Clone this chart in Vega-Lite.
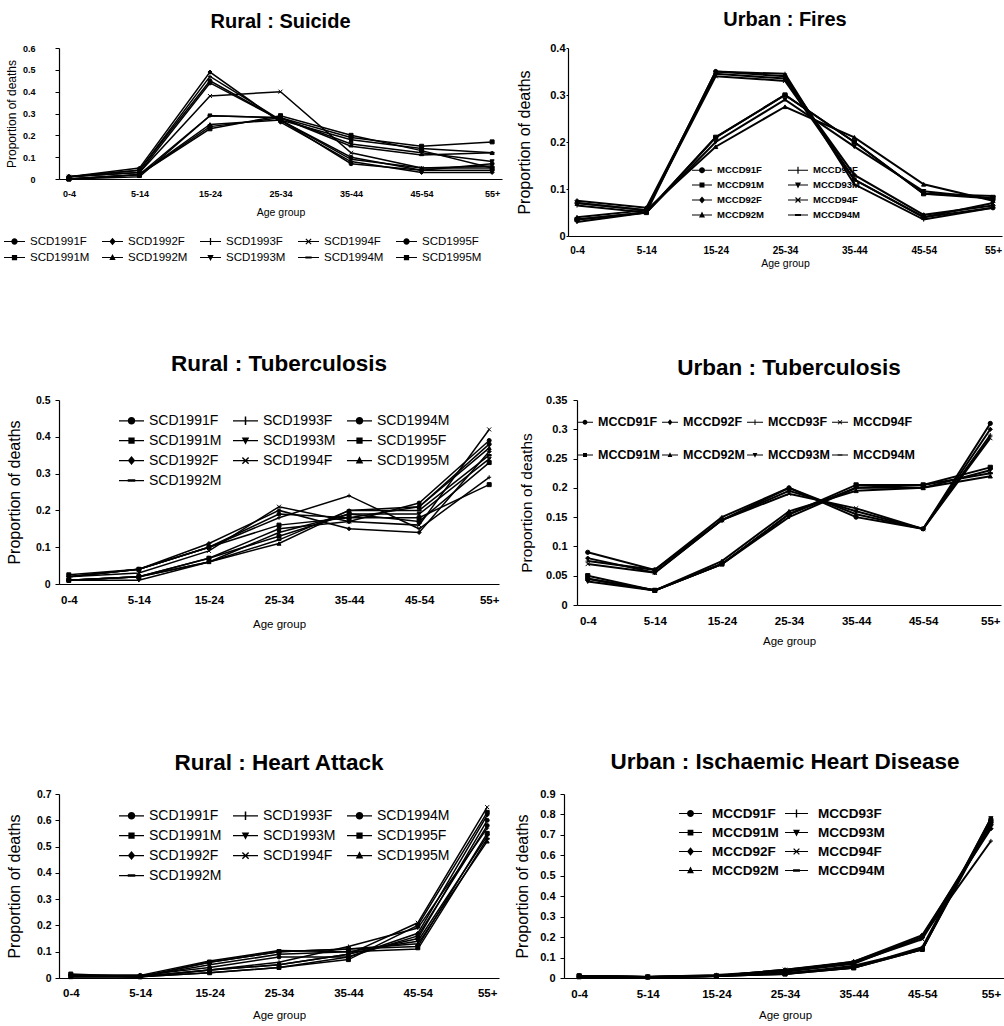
{
"$schema":"https://vega.github.io/schema/vega-lite/v6.json",
"padding":{"left":4,"top":10,"right":0,"bottom":0},
"datasets":{
"suicide":[
{"series":"SCD1991F","age":"0-4","value":0.01},{"series":"SCD1991F","age":"5-14","value":0.04},{"series":"SCD1991F","age":"15-24","value":0.45},{"series":"SCD1991F","age":"25-34","value":0.27},{"series":"SCD1991F","age":"35-44","value":0.10},{"series":"SCD1991F","age":"45-54","value":0.04},{"series":"SCD1991F","age":"55+","value":0.04},
{"series":"SCD1991M","age":"0-4","value":0.0},{"series":"SCD1991M","age":"5-14","value":0.02},{"series":"SCD1991M","age":"15-24","value":0.24},{"series":"SCD1991M","age":"25-34","value":0.28},{"series":"SCD1991M","age":"35-44","value":0.19},{"series":"SCD1991M","age":"45-54","value":0.15},{"series":"SCD1991M","age":"55+","value":0.17},
{"series":"SCD1992F","age":"0-4","value":0.01},{"series":"SCD1992F","age":"5-14","value":0.05},{"series":"SCD1992F","age":"15-24","value":0.49},{"series":"SCD1992F","age":"25-34","value":0.26},{"series":"SCD1992F","age":"35-44","value":0.08},{"series":"SCD1992F","age":"45-54","value":0.03},{"series":"SCD1992F","age":"55+","value":0.03},
{"series":"SCD1992M","age":"0-4","value":0.0},{"series":"SCD1992M","age":"5-14","value":0.02},{"series":"SCD1992M","age":"15-24","value":0.25},{"series":"SCD1992M","age":"25-34","value":0.27},{"series":"SCD1992M","age":"35-44","value":0.18},{"series":"SCD1992M","age":"45-54","value":0.14},{"series":"SCD1992M","age":"55+","value":0.12},
{"series":"SCD1993F","age":"0-4","value":0.01},{"series":"SCD1993F","age":"5-14","value":0.04},{"series":"SCD1993F","age":"15-24","value":0.47},{"series":"SCD1993F","age":"25-34","value":0.27},{"series":"SCD1993F","age":"35-44","value":0.09},{"series":"SCD1993F","age":"45-54","value":0.05},{"series":"SCD1993F","age":"55+","value":0.05},
{"series":"SCD1993M","age":"0-4","value":0.0},{"series":"SCD1993M","age":"5-14","value":0.02},{"series":"SCD1993M","age":"15-24","value":0.29},{"series":"SCD1993M","age":"25-34","value":0.28},{"series":"SCD1993M","age":"35-44","value":0.16},{"series":"SCD1993M","age":"45-54","value":0.12},{"series":"SCD1993M","age":"55+","value":0.08},
{"series":"SCD1994F","age":"0-4","value":0.01},{"series":"SCD1994F","age":"5-14","value":0.03},{"series":"SCD1994F","age":"15-24","value":0.38},{"series":"SCD1994F","age":"25-34","value":0.40},{"series":"SCD1994F","age":"35-44","value":0.12},{"series":"SCD1994F","age":"45-54","value":0.05},{"series":"SCD1994F","age":"55+","value":0.06},
{"series":"SCD1994M","age":"0-4","value":0.0},{"series":"SCD1994M","age":"5-14","value":0.01},{"series":"SCD1994M","age":"15-24","value":0.29},{"series":"SCD1994M","age":"25-34","value":0.28},{"series":"SCD1994M","age":"35-44","value":0.15},{"series":"SCD1994M","age":"45-54","value":0.11},{"series":"SCD1994M","age":"55+","value":0.12},
{"series":"SCD1995F","age":"0-4","value":0.01},{"series":"SCD1995F","age":"5-14","value":0.03},{"series":"SCD1995F","age":"15-24","value":0.44},{"series":"SCD1995F","age":"25-34","value":0.27},{"series":"SCD1995F","age":"35-44","value":0.07},{"series":"SCD1995F","age":"45-54","value":0.04},{"series":"SCD1995F","age":"55+","value":0.07},
{"series":"SCD1995M","age":"0-4","value":0.0},{"series":"SCD1995M","age":"5-14","value":0.02},{"series":"SCD1995M","age":"15-24","value":0.23},{"series":"SCD1995M","age":"25-34","value":0.29},{"series":"SCD1995M","age":"35-44","value":0.20},{"series":"SCD1995M","age":"45-54","value":0.13},{"series":"SCD1995M","age":"55+","value":0.05}
],
"fires":[
{"series":"MCCD91F","age":"0-4","value":0.07},{"series":"MCCD91F","age":"5-14","value":0.055},{"series":"MCCD91F","age":"15-24","value":0.35},{"series":"MCCD91F","age":"25-34","value":0.34},{"series":"MCCD91F","age":"35-44","value":0.12},{"series":"MCCD91F","age":"45-54","value":0.04},{"series":"MCCD91F","age":"55+","value":0.06},
{"series":"MCCD92F","age":"0-4","value":0.075},{"series":"MCCD92F","age":"5-14","value":0.06},{"series":"MCCD92F","age":"15-24","value":0.345},{"series":"MCCD92F","age":"25-34","value":0.335},{"series":"MCCD92F","age":"35-44","value":0.13},{"series":"MCCD92F","age":"45-54","value":0.045},{"series":"MCCD92F","age":"55+","value":0.065},
{"series":"MCCD93F","age":"0-4","value":0.065},{"series":"MCCD93F","age":"5-14","value":0.05},{"series":"MCCD93F","age":"15-24","value":0.35},{"series":"MCCD93F","age":"25-34","value":0.345},{"series":"MCCD93F","age":"35-44","value":0.11},{"series":"MCCD93F","age":"45-54","value":0.035},{"series":"MCCD93F","age":"55+","value":0.06},
{"series":"MCCD94F","age":"0-4","value":0.07},{"series":"MCCD94F","age":"5-14","value":0.055},{"series":"MCCD94F","age":"15-24","value":0.34},{"series":"MCCD94F","age":"25-34","value":0.33},{"series":"MCCD94F","age":"35-44","value":0.12},{"series":"MCCD94F","age":"45-54","value":0.04},{"series":"MCCD94F","age":"55+","value":0.07},
{"series":"MCCD91M","age":"0-4","value":0.035},{"series":"MCCD91M","age":"5-14","value":0.05},{"series":"MCCD91M","age":"15-24","value":0.21},{"series":"MCCD91M","age":"25-34","value":0.30},{"series":"MCCD91M","age":"35-44","value":0.20},{"series":"MCCD91M","age":"45-54","value":0.09},{"series":"MCCD91M","age":"55+","value":0.08},
{"series":"MCCD92M","age":"0-4","value":0.04},{"series":"MCCD92M","age":"5-14","value":0.055},{"series":"MCCD92M","age":"15-24","value":0.19},{"series":"MCCD92M","age":"25-34","value":0.275},{"series":"MCCD92M","age":"35-44","value":0.21},{"series":"MCCD92M","age":"45-54","value":0.11},{"series":"MCCD92M","age":"55+","value":0.075},
{"series":"MCCD93M","age":"0-4","value":0.03},{"series":"MCCD93M","age":"5-14","value":0.05},{"series":"MCCD93M","age":"15-24","value":0.20},{"series":"MCCD93M","age":"25-34","value":0.29},{"series":"MCCD93M","age":"35-44","value":0.19},{"series":"MCCD93M","age":"45-54","value":0.095},{"series":"MCCD93M","age":"55+","value":0.08},
{"series":"MCCD94M","age":"0-4","value":0.035},{"series":"MCCD94M","age":"5-14","value":0.05},{"series":"MCCD94M","age":"15-24","value":0.21},{"series":"MCCD94M","age":"25-34","value":0.30},{"series":"MCCD94M","age":"35-44","value":0.20},{"series":"MCCD94M","age":"45-54","value":0.09},{"series":"MCCD94M","age":"55+","value":0.085}
],
"tbR":[
{"series":"SCD1991F","age":"0-4","value":0.02},{"series":"SCD1991F","age":"5-14","value":0.04},{"series":"SCD1991F","age":"15-24","value":0.10},{"series":"SCD1991F","age":"25-34","value":0.19},{"series":"SCD1991F","age":"35-44","value":0.18},{"series":"SCD1991F","age":"45-54","value":0.21},{"series":"SCD1991F","age":"55+","value":0.38},
{"series":"SCD1991M","age":"0-4","value":0.01},{"series":"SCD1991M","age":"5-14","value":0.02},{"series":"SCD1991M","age":"15-24","value":0.07},{"series":"SCD1991M","age":"25-34","value":0.13},{"series":"SCD1991M","age":"35-44","value":0.19},{"series":"SCD1991M","age":"45-54","value":0.17},{"series":"SCD1991M","age":"55+","value":0.33},
{"series":"SCD1992F","age":"0-4","value":0.02},{"series":"SCD1992F","age":"5-14","value":0.04},{"series":"SCD1992F","age":"15-24","value":0.11},{"series":"SCD1992F","age":"25-34","value":0.20},{"series":"SCD1992F","age":"35-44","value":0.15},{"series":"SCD1992F","age":"45-54","value":0.14},{"series":"SCD1992F","age":"55+","value":0.36},
{"series":"SCD1992M","age":"0-4","value":0.01},{"series":"SCD1992M","age":"5-14","value":0.02},{"series":"SCD1992M","age":"15-24","value":0.06},{"series":"SCD1992M","age":"25-34","value":0.12},{"series":"SCD1992M","age":"35-44","value":0.20},{"series":"SCD1992M","age":"45-54","value":0.20},{"series":"SCD1992M","age":"55+","value":0.35},
{"series":"SCD1993F","age":"0-4","value":0.02},{"series":"SCD1993F","age":"5-14","value":0.04},{"series":"SCD1993F","age":"15-24","value":0.10},{"series":"SCD1993F","age":"25-34","value":0.18},{"series":"SCD1993F","age":"35-44","value":0.24},{"series":"SCD1993F","age":"45-54","value":0.15},{"series":"SCD1993F","age":"55+","value":0.29},
{"series":"SCD1993M","age":"0-4","value":0.01},{"series":"SCD1993M","age":"5-14","value":0.01},{"series":"SCD1993M","age":"15-24","value":0.06},{"series":"SCD1993M","age":"25-34","value":0.14},{"series":"SCD1993M","age":"35-44","value":0.19},{"series":"SCD1993M","age":"45-54","value":0.19},{"series":"SCD1993M","age":"55+","value":0.34},
{"series":"SCD1994F","age":"0-4","value":0.02},{"series":"SCD1994F","age":"5-14","value":0.03},{"series":"SCD1994F","age":"15-24","value":0.09},{"series":"SCD1994F","age":"25-34","value":0.21},{"series":"SCD1994F","age":"35-44","value":0.17},{"series":"SCD1994F","age":"45-54","value":0.16},{"series":"SCD1994F","age":"55+","value":0.42},
{"series":"SCD1994M","age":"0-4","value":0.01},{"series":"SCD1994M","age":"5-14","value":0.02},{"series":"SCD1994M","age":"15-24","value":0.07},{"series":"SCD1994M","age":"25-34","value":0.15},{"series":"SCD1994M","age":"35-44","value":0.17},{"series":"SCD1994M","age":"45-54","value":0.22},{"series":"SCD1994M","age":"55+","value":0.39},
{"series":"SCD1995F","age":"0-4","value":0.025},{"series":"SCD1995F","age":"5-14","value":0.04},{"series":"SCD1995F","age":"15-24","value":0.10},{"series":"SCD1995F","age":"25-34","value":0.16},{"series":"SCD1995F","age":"35-44","value":0.18},{"series":"SCD1995F","age":"45-54","value":0.18},{"series":"SCD1995F","age":"55+","value":0.27},
{"series":"SCD1995M","age":"0-4","value":0.01},{"series":"SCD1995M","age":"5-14","value":0.02},{"series":"SCD1995M","age":"15-24","value":0.06},{"series":"SCD1995M","age":"25-34","value":0.11},{"series":"SCD1995M","age":"35-44","value":0.20},{"series":"SCD1995M","age":"45-54","value":0.21},{"series":"SCD1995M","age":"55+","value":0.37}
],
"tbU":[
{"series":"MCCD91F","age":"0-4","value":0.09},{"series":"MCCD91F","age":"5-14","value":0.06},{"series":"MCCD91F","age":"15-24","value":0.145},{"series":"MCCD91F","age":"25-34","value":0.20},{"series":"MCCD91F","age":"35-44","value":0.15},{"series":"MCCD91F","age":"45-54","value":0.13},{"series":"MCCD91F","age":"55+","value":0.31},
{"series":"MCCD92F","age":"0-4","value":0.08},{"series":"MCCD92F","age":"5-14","value":0.055},{"series":"MCCD92F","age":"15-24","value":0.145},{"series":"MCCD92F","age":"25-34","value":0.195},{"series":"MCCD92F","age":"35-44","value":0.16},{"series":"MCCD92F","age":"45-54","value":0.13},{"series":"MCCD92F","age":"55+","value":0.30},
{"series":"MCCD93F","age":"0-4","value":0.075},{"series":"MCCD93F","age":"5-14","value":0.06},{"series":"MCCD93F","age":"15-24","value":0.15},{"series":"MCCD93F","age":"25-34","value":0.20},{"series":"MCCD93F","age":"35-44","value":0.155},{"series":"MCCD93F","age":"45-54","value":0.13},{"series":"MCCD93F","age":"55+","value":0.29},
{"series":"MCCD94F","age":"0-4","value":0.07},{"series":"MCCD94F","age":"5-14","value":0.055},{"series":"MCCD94F","age":"15-24","value":0.145},{"series":"MCCD94F","age":"25-34","value":0.19},{"series":"MCCD94F","age":"35-44","value":0.165},{"series":"MCCD94F","age":"45-54","value":0.13},{"series":"MCCD94F","age":"55+","value":0.285},
{"series":"MCCD91M","age":"0-4","value":0.05},{"series":"MCCD91M","age":"5-14","value":0.025},{"series":"MCCD91M","age":"15-24","value":0.07},{"series":"MCCD91M","age":"25-34","value":0.155},{"series":"MCCD91M","age":"35-44","value":0.205},{"series":"MCCD91M","age":"45-54","value":0.205},{"series":"MCCD91M","age":"55+","value":0.235},
{"series":"MCCD92M","age":"0-4","value":0.045},{"series":"MCCD92M","age":"5-14","value":0.025},{"series":"MCCD92M","age":"15-24","value":0.075},{"series":"MCCD92M","age":"25-34","value":0.16},{"series":"MCCD92M","age":"35-44","value":0.195},{"series":"MCCD92M","age":"45-54","value":0.20},{"series":"MCCD92M","age":"55+","value":0.22},
{"series":"MCCD93M","age":"0-4","value":0.04},{"series":"MCCD93M","age":"5-14","value":0.025},{"series":"MCCD93M","age":"15-24","value":0.07},{"series":"MCCD93M","age":"25-34","value":0.15},{"series":"MCCD93M","age":"35-44","value":0.20},{"series":"MCCD93M","age":"45-54","value":0.20},{"series":"MCCD93M","age":"55+","value":0.23},
{"series":"MCCD94M","age":"0-4","value":0.045},{"series":"MCCD94M","age":"5-14","value":0.025},{"series":"MCCD94M","age":"15-24","value":0.07},{"series":"MCCD94M","age":"25-34","value":0.155},{"series":"MCCD94M","age":"35-44","value":0.20},{"series":"MCCD94M","age":"45-54","value":0.205},{"series":"MCCD94M","age":"55+","value":0.225}
],
"heartR":[
{"series":"SCD1991F","age":"0-4","value":0.01},{"series":"SCD1991F","age":"5-14","value":0.005},{"series":"SCD1991F","age":"15-24","value":0.03},{"series":"SCD1991F","age":"25-34","value":0.05},{"series":"SCD1991F","age":"35-44","value":0.09},{"series":"SCD1991F","age":"45-54","value":0.15},{"series":"SCD1991F","age":"55+","value":0.60},
{"series":"SCD1991M","age":"0-4","value":0.005},{"series":"SCD1991M","age":"5-14","value":0.005},{"series":"SCD1991M","age":"15-24","value":0.06},{"series":"SCD1991M","age":"25-34","value":0.10},{"series":"SCD1991M","age":"35-44","value":0.11},{"series":"SCD1991M","age":"45-54","value":0.12},{"series":"SCD1991M","age":"55+","value":0.55},
{"series":"SCD1992F","age":"0-4","value":0.01},{"series":"SCD1992F","age":"5-14","value":0.005},{"series":"SCD1992F","age":"15-24","value":0.02},{"series":"SCD1992F","age":"25-34","value":0.04},{"series":"SCD1992F","age":"35-44","value":0.08},{"series":"SCD1992F","age":"45-54","value":0.17},{"series":"SCD1992F","age":"55+","value":0.62},
{"series":"SCD1992M","age":"0-4","value":0.01},{"series":"SCD1992M","age":"5-14","value":0.01},{"series":"SCD1992M","age":"15-24","value":0.065},{"series":"SCD1992M","age":"25-34","value":0.105},{"series":"SCD1992M","age":"35-44","value":0.10},{"series":"SCD1992M","age":"45-54","value":0.11},{"series":"SCD1992M","age":"55+","value":0.53},
{"series":"SCD1993F","age":"0-4","value":0.01},{"series":"SCD1993F","age":"5-14","value":0.005},{"series":"SCD1993F","age":"15-24","value":0.03},{"series":"SCD1993F","age":"25-34","value":0.06},{"series":"SCD1993F","age":"35-44","value":0.12},{"series":"SCD1993F","age":"45-54","value":0.19},{"series":"SCD1993F","age":"55+","value":0.57},
{"series":"SCD1993M","age":"0-4","value":0.005},{"series":"SCD1993M","age":"5-14","value":0.005},{"series":"SCD1993M","age":"15-24","value":0.05},{"series":"SCD1993M","age":"25-34","value":0.09},{"series":"SCD1993M","age":"35-44","value":0.10},{"series":"SCD1993M","age":"45-54","value":0.14},{"series":"SCD1993M","age":"55+","value":0.54},
{"series":"SCD1994F","age":"0-4","value":0.01},{"series":"SCD1994F","age":"5-14","value":0.005},{"series":"SCD1994F","age":"15-24","value":0.03},{"series":"SCD1994F","age":"25-34","value":0.05},{"series":"SCD1994F","age":"35-44","value":0.09},{"series":"SCD1994F","age":"45-54","value":0.21},{"series":"SCD1994F","age":"55+","value":0.65},
{"series":"SCD1994M","age":"0-4","value":0.01},{"series":"SCD1994M","age":"5-14","value":0.01},{"series":"SCD1994M","age":"15-24","value":0.04},{"series":"SCD1994M","age":"25-34","value":0.08},{"series":"SCD1994M","age":"35-44","value":0.08},{"series":"SCD1994M","age":"45-54","value":0.16},{"series":"SCD1994M","age":"55+","value":0.58},
{"series":"SCD1995F","age":"0-4","value":0.015},{"series":"SCD1995F","age":"5-14","value":0.005},{"series":"SCD1995F","age":"15-24","value":0.02},{"series":"SCD1995F","age":"25-34","value":0.04},{"series":"SCD1995F","age":"35-44","value":0.07},{"series":"SCD1995F","age":"45-54","value":0.20},{"series":"SCD1995F","age":"55+","value":0.63},
{"series":"SCD1995M","age":"0-4","value":0.005},{"series":"SCD1995M","age":"5-14","value":0.005},{"series":"SCD1995M","age":"15-24","value":0.06},{"series":"SCD1995M","age":"25-34","value":0.10},{"series":"SCD1995M","age":"35-44","value":0.11},{"series":"SCD1995M","age":"45-54","value":0.13},{"series":"SCD1995M","age":"55+","value":0.52}
],
"ihdU":[
{"series":"MCCD91F","age":"0-4","value":0.01},{"series":"MCCD91F","age":"5-14","value":0.005},{"series":"MCCD91F","age":"15-24","value":0.01},{"series":"MCCD91F","age":"25-34","value":0.03},{"series":"MCCD91F","age":"35-44","value":0.07},{"series":"MCCD91F","age":"45-54","value":0.20},{"series":"MCCD91F","age":"55+","value":0.75},
{"series":"MCCD91M","age":"0-4","value":0.01},{"series":"MCCD91M","age":"5-14","value":0.005},{"series":"MCCD91M","age":"15-24","value":0.01},{"series":"MCCD91M","age":"25-34","value":0.02},{"series":"MCCD91M","age":"35-44","value":0.05},{"series":"MCCD91M","age":"45-54","value":0.14},{"series":"MCCD91M","age":"55+","value":0.77},
{"series":"MCCD92F","age":"0-4","value":0.01},{"series":"MCCD92F","age":"5-14","value":0.005},{"series":"MCCD92F","age":"15-24","value":0.01},{"series":"MCCD92F","age":"25-34","value":0.04},{"series":"MCCD92F","age":"35-44","value":0.08},{"series":"MCCD92F","age":"45-54","value":0.21},{"series":"MCCD92F","age":"55+","value":0.73},
{"series":"MCCD92M","age":"0-4","value":0.005},{"series":"MCCD92M","age":"5-14","value":0.005},{"series":"MCCD92M","age":"15-24","value":0.01},{"series":"MCCD92M","age":"25-34","value":0.02},{"series":"MCCD92M","age":"35-44","value":0.05},{"series":"MCCD92M","age":"45-54","value":0.15},{"series":"MCCD92M","age":"55+","value":0.78},
{"series":"MCCD93F","age":"0-4","value":0.01},{"series":"MCCD93F","age":"5-14","value":0.005},{"series":"MCCD93F","age":"15-24","value":0.015},{"series":"MCCD93F","age":"25-34","value":0.035},{"series":"MCCD93F","age":"35-44","value":0.08},{"series":"MCCD93F","age":"45-54","value":0.20},{"series":"MCCD93F","age":"55+","value":0.67},
{"series":"MCCD93M","age":"0-4","value":0.01},{"series":"MCCD93M","age":"5-14","value":0.005},{"series":"MCCD93M","age":"15-24","value":0.01},{"series":"MCCD93M","age":"25-34","value":0.02},{"series":"MCCD93M","age":"35-44","value":0.06},{"series":"MCCD93M","age":"45-54","value":0.14},{"series":"MCCD93M","age":"55+","value":0.78},
{"series":"MCCD94F","age":"0-4","value":0.01},{"series":"MCCD94F","age":"5-14","value":0.005},{"series":"MCCD94F","age":"15-24","value":0.01},{"series":"MCCD94F","age":"25-34","value":0.04},{"series":"MCCD94F","age":"35-44","value":0.075},{"series":"MCCD94F","age":"45-54","value":0.19},{"series":"MCCD94F","age":"55+","value":0.74},
{"series":"MCCD94M","age":"0-4","value":0.005},{"series":"MCCD94M","age":"5-14","value":0.005},{"series":"MCCD94M","age":"15-24","value":0.01},{"series":"MCCD94M","age":"25-34","value":0.025},{"series":"MCCD94M","age":"35-44","value":0.05},{"series":"MCCD94M","age":"45-54","value":0.14},{"series":"MCCD94M","age":"55+","value":0.76}
]
},
"spacing":83,
"vconcat":[
{"hconcat":[
{"title":{"text":"Rural : Suicide","fontSize":20,"offset":12},
"width":443,"height":131,
"data":{"name":"suicide"},
"encoding":{
"x":{"field":"age","type":"ordinal","sort":["0-4","5-14","15-24","25-34","35-44","45-54","55+"],"scale":{"type":"point","padding":0.14},"axis":{"title":"Age group","labelFontSize":9,"labelPadding":10,"titleFontSize":10.5,"titlePadding":9}},
"y":{"field":"value","type":"quantitative","scale":{"domain":[0,0.6]},"axis":{"values":[0,0.1,0.2,0.3,0.4,0.5,0.6],"format":"~g","title":"Proportion of deaths","labelFontSize":9,"labelPadding":20,"titleFontSize":12,"titlePadding":4}}},
"layer":[
{"mark":{"type":"line","color":"black","strokeWidth":1.5},"encoding":{"detail":{"field":"series"}}},
{"mark":{"type":"point","filled":true,"color":"black","stroke":"black","strokeWidth":1,"size":16,"opacity":1},"encoding":{"shape":{"field":"series","scale":{"domain":["SCD1991F","SCD1991M","SCD1992F","SCD1992M","SCD1993F","SCD1993M","SCD1994F","SCD1994M","SCD1995F","SCD1995M"],"range":["circle","square","diamond","triangle-up","M0,-1V1M-1,0H1","triangle-down","M-1,-1L1,1M1,-1L-1,1","M-1,-0.35H1V0.35H-1Z","circle","square"]},"legend":null}}},
{"transform":[{"filter":"false"}],"mark":{"type":"point","filled":true,"color":"black","opacity":1},"encoding":{"shape":{"field":"series","scale":{"domain":["SCD1991F","SCD1991M","SCD1992F","SCD1992M","SCD1993F","SCD1993M","SCD1994F","SCD1994M","SCD1995F","SCD1995M"],"range":["M-1,-0.05H1V0.05H-1ZM0.3,0A0.3,0.3,0,1,1,-0.3,0A0.3,0.3,0,1,1,0.3,0Z","M-1,-0.05H1V0.05H-1ZM-0.25,-0.25H0.25V0.25H-0.25Z","M-1,-0.05H1V0.05H-1ZM0,-0.36L0.3,0L0,0.36L-0.3,0Z","M-1,-0.05H1V0.05H-1ZM0,-0.34L0.3,0.24H-0.3Z","M-1,-0.05H1V0.05H-1ZM-0.06,-0.34H0.06V0.34H-0.06Z","M-1,-0.05H1V0.05H-1ZM0,0.34L-0.3,-0.24H0.3Z","M-1,-0.05H1V0.05H-1ZM-0.29,-0.21L-0.21,-0.29L0.29,0.21L0.21,0.29ZM0.21,-0.29L0.29,-0.21L-0.21,0.29L-0.29,0.21Z","M-1,-0.05H1V0.05H-1ZM-0.3,-0.1H0.3V0.1H-0.3Z","M-1,-0.05H1V0.05H-1ZM0.3,0A0.3,0.3,0,1,1,-0.3,0A0.3,0.3,0,1,1,0.3,0Z","M-1,-0.05H1V0.05H-1ZM-0.25,-0.25H0.25V0.25H-0.25Z"]},
"legend":{"orient":"none","legendX":-55,"legendY":183,"columns":5,"title":null,"symbolSize":441,"columnPadding":12,"rowPadding":-4,"labelFontSize":11.5,"labelFontWeight":"normal"}}}}
],
"resolve":{"scale":{"shape":"independent"}}},
{"title":{"text":"Urban : Fires","fontSize":20,"offset":12},
"width":434,"height":188,
"data":{"name":"fires"},
"encoding":{
"x":{"field":"age","type":"ordinal","sort":["0-4","5-14","15-24","25-34","35-44","45-54","55+"],"scale":{"type":"point","padding":0.13},"axis":{"title":"Age group","labelFontSize":10,"labelPadding":9,"titleFontSize":10.5,"titlePadding":3}},
"y":{"field":"value","type":"quantitative","scale":{"domain":[0,0.4]},"axis":{"values":[0,0.1,0.2,0.3,0.4],"format":"~g","title":"Proportion of deaths","labelFontSize":11,"labelPadding":1,"tickSize":2,"titleFontSize":16,"titlePadding":17}}},
"layer":[
{"mark":{"type":"line","color":"black","strokeWidth":2},"encoding":{"detail":{"field":"series"}}},
{"mark":{"type":"point","filled":true,"color":"black","stroke":"black","strokeWidth":1,"size":18,"opacity":1},"encoding":{"shape":{"field":"series","scale":{"domain":["MCCD91F","MCCD91M","MCCD92F","MCCD92M","MCCD93F","MCCD93M","MCCD94F","MCCD94M"],"range":["circle","square","diamond","triangle-up","M0,-1V1M-1,0H1","triangle-down","M-1,-1L1,1M1,-1L-1,1","M-1,-0.35H1V0.35H-1Z"]},"legend":null}}},
{"transform":[{"filter":"false"}],"mark":{"type":"point","filled":true,"color":"black","opacity":1},"encoding":{"shape":{"field":"series","scale":{"domain":["MCCD91F","MCCD91M","MCCD92F","MCCD92M","MCCD93F","MCCD93M","MCCD94F","MCCD94M"],"range":["M-1,-0.05H1V0.05H-1ZM0.3,0A0.3,0.3,0,1,1,-0.3,0A0.3,0.3,0,1,1,0.3,0Z","M-1,-0.05H1V0.05H-1ZM-0.25,-0.25H0.25V0.25H-0.25Z","M-1,-0.05H1V0.05H-1ZM0,-0.36L0.3,0L0,0.36L-0.3,0Z","M-1,-0.05H1V0.05H-1ZM0,-0.34L0.3,0.24H-0.3Z","M-1,-0.05H1V0.05H-1ZM-0.06,-0.34H0.06V0.34H-0.06Z","M-1,-0.05H1V0.05H-1ZM0,0.34L-0.3,-0.24H0.3Z","M-1,-0.05H1V0.05H-1ZM-0.29,-0.21L-0.21,-0.29L0.29,0.21L0.21,0.29ZM0.21,-0.29L0.29,-0.21L-0.21,0.29L-0.29,0.21Z","M-1,-0.05H1V0.05H-1ZM-0.3,-0.1H0.3V0.1H-0.3Z"]},
"legend":{"orient":"none","legendX":124,"legendY":112,"columns":2,"title":null,"symbolSize":400,"columnPadding":24,"rowPadding":-6,"labelFontSize":9.5,"labelFontWeight":"bold"}}}}
],
"resolve":{"scale":{"shape":"independent"}}}
],"spacing":14},
{"spacing":103,"vconcat":[
{"hconcat":[
{"title":{"text":"Rural : Tuberculosis","fontSize":22.5,"offset":20},
"width":440,"height":184,
"data":{"name":"tbR"},
"encoding":{
"x":{"field":"age","type":"ordinal","sort":["0-4","5-14","15-24","25-34","35-44","45-54","55+"],"scale":{"type":"point","padding":0.14},"axis":{"title":"Age group","labelFontSize":11.5,"labelPadding":10,"titleFontSize":11.5,"titlePadding":13}},
"y":{"field":"value","type":"quantitative","scale":{"domain":[0,0.5]},"axis":{"values":[0,0.1,0.2,0.3,0.4,0.5],"format":"~g","title":"Proportion of deaths","labelFontSize":10.5,"labelPadding":5,"titleFontSize":16,"titlePadding":13}}},
"layer":[
{"mark":{"type":"line","color":"black","strokeWidth":1.5},"encoding":{"detail":{"field":"series"}}},
{"mark":{"type":"point","filled":true,"color":"black","stroke":"black","strokeWidth":1,"size":16,"opacity":1},"encoding":{"shape":{"field":"series","scale":{"domain":["SCD1991F","SCD1991M","SCD1992F","SCD1995M","SCD1993F","SCD1993M","SCD1994F","SCD1992M","SCD1994M","SCD1995F"],"range":["circle","square","diamond","triangle-up","M0,-1V1M-1,0H1","triangle-down","M-1,-1L1,1M1,-1L-1,1","M-1,-0.35H1V0.35H-1Z","circle","square"]},"legend":null}}},
{"transform":[{"filter":"false"}],"mark":{"type":"point","filled":true,"color":"black","opacity":1},"encoding":{"shape":{"field":"series","scale":{"domain":["SCD1991F","SCD1991M","SCD1992F","SCD1995M","SCD1993F","SCD1993M","SCD1994F","SCD1992M","SCD1994M","SCD1995F"],"range":["M-1,-0.05H1V0.05H-1ZM0.3,0A0.3,0.3,0,1,1,-0.3,0A0.3,0.3,0,1,1,0.3,0Z","M-1,-0.05H1V0.05H-1ZM-0.25,-0.25H0.25V0.25H-0.25Z","M-1,-0.05H1V0.05H-1ZM0,-0.36L0.3,0L0,0.36L-0.3,0Z","M-1,-0.05H1V0.05H-1ZM0,-0.34L0.3,0.24H-0.3Z","M-1,-0.05H1V0.05H-1ZM-0.06,-0.34H0.06V0.34H-0.06Z","M-1,-0.05H1V0.05H-1ZM0,0.34L-0.3,-0.24H0.3Z","M-1,-0.05H1V0.05H-1ZM-0.29,-0.21L-0.21,-0.29L0.29,0.21L0.21,0.29ZM0.21,-0.29L0.29,-0.21L-0.21,0.29L-0.29,0.21Z","M-1,-0.05H1V0.05H-1ZM-0.3,-0.1H0.3V0.1H-0.3Z","M-1,-0.05H1V0.05H-1ZM0.3,0A0.3,0.3,0,1,1,-0.3,0A0.3,0.3,0,1,1,0.3,0Z","M-1,-0.05H1V0.05H-1ZM-0.25,-0.25H0.25V0.25H-0.25Z"]},
"legend":{"orient":"none","legendX":60,"legendY":8,"columns":3,"title":null,"symbolSize":625,"columnPadding":11,"rowPadding":-5,"labelFontSize":14,"labelFontWeight":"normal"}}}}
],
"resolve":{"scale":{"shape":"independent"}}},
{"title":{"text":"Urban : Tuberculosis","fontSize":22.5,"offset":15},
"width":424,"height":205,
"data":{"name":"tbU"},
"encoding":{
"x":{"field":"age","type":"ordinal","sort":["0-4","5-14","15-24","25-34","35-44","45-54","55+"],"scale":{"type":"point","padding":0.16},"axis":{"title":"Age group","labelFontSize":11.5,"labelPadding":10,"titleFontSize":11.5,"titlePadding":9}},
"y":{"field":"value","type":"quantitative","scale":{"domain":[0,0.35]},"axis":{"values":[0,0.05,0.1,0.15,0.2,0.25,0.3,0.35],"format":"~g","title":"Proportion of deaths","labelFontSize":11,"labelPadding":6,"titleFontSize":15.5,"titlePadding":11}}},
"layer":[
{"mark":{"type":"line","color":"black","strokeWidth":2},"encoding":{"detail":{"field":"series"}}},
{"mark":{"type":"point","filled":true,"color":"black","stroke":"black","strokeWidth":1,"size":18,"opacity":1},"encoding":{"shape":{"field":"series","scale":{"domain":["MCCD91F","MCCD91M","MCCD92F","MCCD92M","MCCD93F","MCCD93M","MCCD94F","MCCD94M"],"range":["circle","square","diamond","triangle-up","M0,-1V1M-1,0H1","triangle-down","M-1,-1L1,1M1,-1L-1,1","M-1,-0.35H1V0.35H-1Z"]},"legend":null}}},
{"transform":[{"filter":"false"}],"mark":{"type":"point","filled":true,"color":"black","opacity":1},"encoding":{"shape":{"field":"series","scale":{"domain":["MCCD91F","MCCD91M","MCCD92F","MCCD92M","MCCD93F","MCCD93M","MCCD94F","MCCD94M"],"range":["M-1,-0.05H1V0.05H-1ZM0.3,0A0.3,0.3,0,1,1,-0.3,0A0.3,0.3,0,1,1,0.3,0Z","M-1,-0.05H1V0.05H-1ZM-0.25,-0.25H0.25V0.25H-0.25Z","M-1,-0.05H1V0.05H-1ZM0,-0.36L0.3,0L0,0.36L-0.3,0Z","M-1,-0.05H1V0.05H-1ZM0,-0.34L0.3,0.24H-0.3Z","M-1,-0.05H1V0.05H-1ZM-0.06,-0.34H0.06V0.34H-0.06Z","M-1,-0.05H1V0.05H-1ZM0,0.34L-0.3,-0.24H0.3Z","M-1,-0.05H1V0.05H-1ZM-0.29,-0.21L-0.21,-0.29L0.29,0.21L0.21,0.29ZM0.21,-0.29L0.29,-0.21L-0.21,0.29L-0.29,0.21Z","M-1,-0.05H1V0.05H-1ZM-0.3,-0.1H0.3V0.1H-0.3Z"]},
"legend":{"orient":"none","legendX":0,"legendY":14,"columns":4,"title":null,"symbolSize":256,"columnPadding":2,"rowPadding":18,"labelFontSize":12.5,"labelFontWeight":"bold"}}}}
],
"resolve":{"scale":{"shape":"independent"}}}
],"spacing":20},
{"hconcat":[
{"title":{"text":"Rural : Heart Attack","fontSize":22.5,"offset":15},
"width":440,"height":184,
"data":{"name":"heartR"},
"encoding":{
"x":{"field":"age","type":"ordinal","sort":["0-4","5-14","15-24","25-34","35-44","45-54","55+"],"scale":{"type":"point","padding":0.17},"axis":{"title":"Age group","labelFontSize":11.5,"labelPadding":9,"titleFontSize":11.5,"titlePadding":11}},
"y":{"field":"value","type":"quantitative","scale":{"domain":[0,0.7]},"axis":{"values":[0,0.1,0.2,0.3,0.4,0.5,0.6,0.7],"format":"~g","title":"Proportion of deaths","labelFontSize":10.5,"labelPadding":4,"titleFontSize":16,"titlePadding":14}}},
"layer":[
{"mark":{"type":"line","color":"black","strokeWidth":1.5},"encoding":{"detail":{"field":"series"}}},
{"mark":{"type":"point","filled":true,"color":"black","stroke":"black","strokeWidth":1,"size":16,"opacity":1},"encoding":{"shape":{"field":"series","scale":{"domain":["SCD1991F","SCD1991M","SCD1992F","SCD1995M","SCD1993F","SCD1993M","SCD1994F","SCD1992M","SCD1994M","SCD1995F"],"range":["circle","square","diamond","triangle-up","M0,-1V1M-1,0H1","triangle-down","M-1,-1L1,1M1,-1L-1,1","M-1,-0.35H1V0.35H-1Z","circle","square"]},"legend":null}}},
{"transform":[{"filter":"false"}],"mark":{"type":"point","filled":true,"color":"black","opacity":1},"encoding":{"shape":{"field":"series","scale":{"domain":["SCD1991F","SCD1991M","SCD1992F","SCD1995M","SCD1993F","SCD1993M","SCD1994F","SCD1992M","SCD1994M","SCD1995F"],"range":["M-1,-0.05H1V0.05H-1ZM0.3,0A0.3,0.3,0,1,1,-0.3,0A0.3,0.3,0,1,1,0.3,0Z","M-1,-0.05H1V0.05H-1ZM-0.25,-0.25H0.25V0.25H-0.25Z","M-1,-0.05H1V0.05H-1ZM0,-0.36L0.3,0L0,0.36L-0.3,0Z","M-1,-0.05H1V0.05H-1ZM0,-0.34L0.3,0.24H-0.3Z","M-1,-0.05H1V0.05H-1ZM-0.06,-0.34H0.06V0.34H-0.06Z","M-1,-0.05H1V0.05H-1ZM0,0.34L-0.3,-0.24H0.3Z","M-1,-0.05H1V0.05H-1ZM-0.29,-0.21L-0.21,-0.29L0.29,0.21L0.21,0.29ZM0.21,-0.29L0.29,-0.21L-0.21,0.29L-0.29,0.21Z","M-1,-0.05H1V0.05H-1ZM-0.3,-0.1H0.3V0.1H-0.3Z","M-1,-0.05H1V0.05H-1ZM0.3,0A0.3,0.3,0,1,1,-0.3,0A0.3,0.3,0,1,1,0.3,0Z","M-1,-0.05H1V0.05H-1ZM-0.25,-0.25H0.25V0.25H-0.25Z"]},
"legend":{"orient":"none","legendX":60,"legendY":9,"columns":3,"title":null,"symbolSize":625,"columnPadding":11,"rowPadding":-5,"labelFontSize":14,"labelFontWeight":"normal"}}}}
],
"resolve":{"scale":{"shape":"independent"}}},
{"title":{"text":"Urban : Ischaemic Heart Disease","fontSize":22.5,"offset":15},
"width":442,"height":184,
"data":{"name":"ihdU"},
"encoding":{
"x":{"field":"age","type":"ordinal","sort":["0-4","5-14","15-24","25-34","35-44","45-54","55+"],"scale":{"type":"point","padding":0.22},"axis":{"title":"Age group","labelFontSize":11.5,"labelPadding":10,"titleFontSize":11.5,"titlePadding":10}},
"y":{"field":"value","type":"quantitative","scale":{"domain":[0,0.9]},"axis":{"values":[0,0.1,0.2,0.3,0.4,0.5,0.6,0.7,0.8,0.9],"format":"~g","title":"Proportion of deaths","labelFontSize":11,"labelPadding":5,"titleFontSize":16,"titlePadding":9}}},
"layer":[
{"mark":{"type":"line","color":"black","strokeWidth":2},"encoding":{"detail":{"field":"series"}}},
{"mark":{"type":"point","filled":true,"color":"black","stroke":"black","strokeWidth":1,"size":18,"opacity":1},"encoding":{"shape":{"field":"series","scale":{"domain":["MCCD91F","MCCD91M","MCCD92F","MCCD92M","MCCD93F","MCCD93M","MCCD94F","MCCD94M"],"range":["circle","square","diamond","triangle-up","M0,-1V1M-1,0H1","triangle-down","M-1,-1L1,1M1,-1L-1,1","M-1,-0.35H1V0.35H-1Z"]},"legend":null}}},
{"transform":[{"filter":"false"}],"mark":{"type":"point","filled":true,"color":"black","opacity":1},"encoding":{"shape":{"field":"series","scale":{"domain":["MCCD91F","MCCD91M","MCCD92F","MCCD92M","MCCD93F","MCCD93M","MCCD94F","MCCD94M"],"range":["M-1,-0.05H1V0.05H-1ZM0.3,0A0.3,0.3,0,1,1,-0.3,0A0.3,0.3,0,1,1,0.3,0Z","M-1,-0.05H1V0.05H-1ZM-0.25,-0.25H0.25V0.25H-0.25Z","M-1,-0.05H1V0.05H-1ZM0,-0.36L0.3,0L0,0.36L-0.3,0Z","M-1,-0.05H1V0.05H-1ZM0,-0.34L0.3,0.24H-0.3Z","M-1,-0.05H1V0.05H-1ZM-0.06,-0.34H0.06V0.34H-0.06Z","M-1,-0.05H1V0.05H-1ZM0,0.34L-0.3,-0.24H0.3Z","M-1,-0.05H1V0.05H-1ZM-0.29,-0.21L-0.21,-0.29L0.29,0.21L0.21,0.29ZM0.21,-0.29L0.29,-0.21L-0.21,0.29L-0.29,0.21Z","M-1,-0.05H1V0.05H-1ZM-0.3,-0.1H0.3V0.1H-0.3Z"]},
"legend":{"orient":"none","legendX":115,"legendY":8,"columns":2,"title":null,"symbolSize":529,"columnPadding":6,"rowPadding":1,"labelOffset":10,"labelFontSize":13.5,"labelFontWeight":"bold"}}}}
],
"resolve":{"scale":{"shape":"independent"}}}
],"spacing":15}
]}
],
"config":{
"font":"Liberation Sans",
"view":{"stroke":null},
"title":{"fontWeight":"bold","color":"#000","anchor":"middle"},
"axis":{"grid":false,"domainColor":"#000","tickColor":"#000","labelColor":"#000","titleColor":"#000","titleFontWeight":"normal","labelFontWeight":"bold","domainWidth":1.2},
"axisX":{"ticks":false,"labelAngle":0},
"axisY":{"tickSize":4},
"legend":{"labelColor":"#000","symbolFillColor":"#000","symbolStrokeWidth":0,"labelOffset":5}
}
}
